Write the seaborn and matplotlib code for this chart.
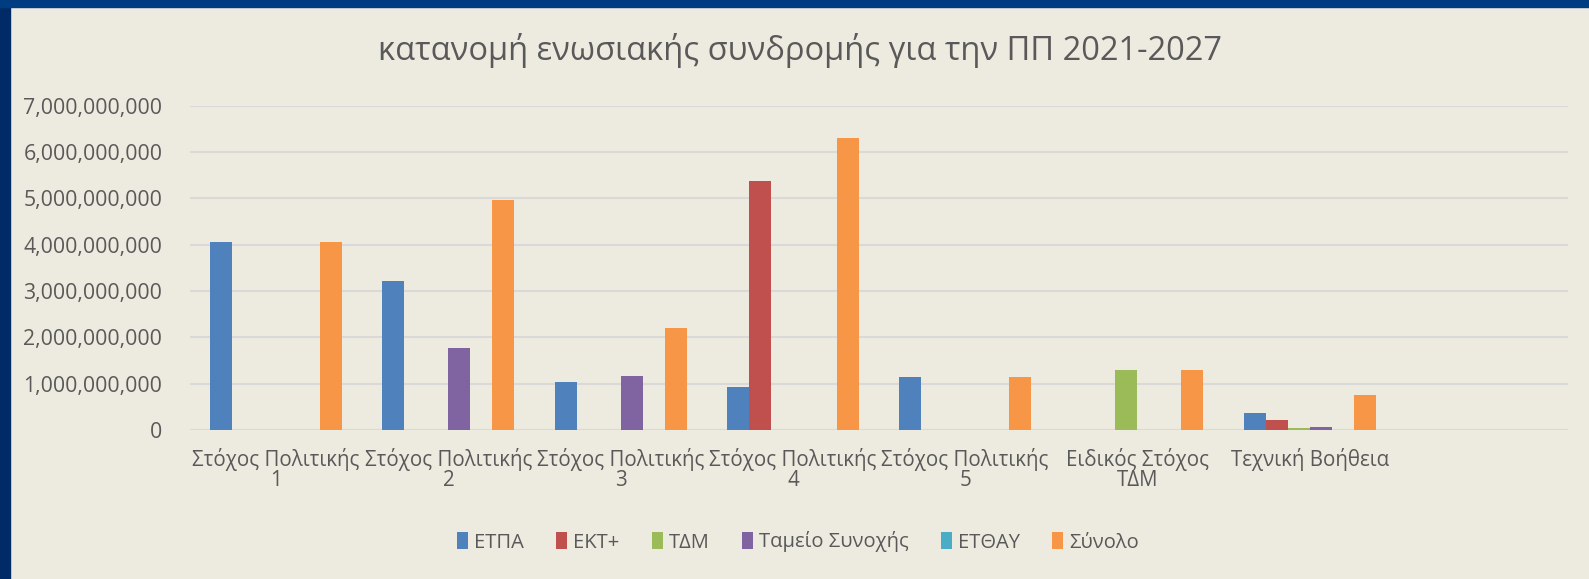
import matplotlib
matplotlib.use('Agg')
import pandas as pd
import matplotlib.pyplot as plt
import seaborn as sns
from matplotlib.patches import Rectangle
from matplotlib.ticker import FuncFormatter

# values in billions of euro
categories = ['Στόχος Πολιτικής\n1', 'Στόχος Πολιτικής\n2', 'Στόχος Πολιτικής\n3',
              'Στόχος Πολιτικής\n4', 'Στόχος Πολιτικής\n5', 'Ειδικός Στόχος\nΤΔΜ',
              'Τεχνική Βοήθεια']
series = ['ΕΤΠΑ', 'ΕΚΤ+', 'ΤΔΜ', 'Ταμείο Συνοχής', 'ΕΤΘΑΥ', 'Σύνολο']
etpa = [4.05, 3.21, 1.03, 0.93, 1.14, 0.0, 0.37]
ekt = [0.0, 0.0, 0.0, 5.38, 0.0, 0.0, 0.22]
tdm = [0.0, 0.0, 0.0, 0.0, 0.0, 1.30, 0.04]
cohesion = [0.0, 1.76, 1.17, 0.0, 0.0, 0.0, 0.06]
ethay = [0.0, 0.0, 0.0, 0.0, 0.0, 0.0, 0.0]
total = [4.05, 4.97, 2.21, 6.31, 1.14, 1.30, 0.75]
colors = ['#4F81BD', '#C0504D', '#9BBB59', '#8064A2', '#4BACC6', '#F79646']

rows = []
for name, vals in zip(series, [etpa, ekt, tdm, cohesion, ethay, total]):
    for cat, v in zip(categories, vals):
        rows.append({'cat': cat, 'fund': name, 'value': v * 1e9})
df = pd.DataFrame(rows)

bg = '#EDEBE0'
txt = '#595959'
sns.set_style('white')
plt.rcParams['font.family'] = ['Open Sans', 'DejaVu Sans']

fig = plt.figure(figsize=(15.89, 5.79), dpi=100, facecolor=bg)
ax = fig.add_axes([0.1196, 0.2573, 0.8672, 0.5601])
ax.set_facecolor(bg)

sns.barplot(data=df, x='cat', y='value', hue='fund', order=categories,
            hue_order=series, palette=colors, width=0.767, linewidth=0,
            saturation=1, ax=ax)

ax.set_xlim(-0.5, 7.5)
ax.set_ylim(0, 7e9)
ax.set_yticks([i * 1e9 for i in range(8)])
ax.yaxis.set_major_formatter(FuncFormatter(lambda v, p: f'{int(round(v)):,}'))
ax.grid(axis='y', color='#D9D9D9', linewidth=1.5)
ax.set_axisbelow(True)
for s in ax.spines.values():
    s.set_visible(False)
ax.tick_params(axis='y', length=0, pad=20, labelsize=15.3, labelcolor=txt)
ax.tick_params(axis='x', length=0, pad=13, labelsize=14.8, labelcolor=txt)
for lab in ax.get_xticklabels():
    lab.set_linespacing(0.95)
ax.set_xlabel('')
ax.set_ylabel('')

ax.legend(loc='center', bbox_to_anchor=(798 / 1589, 1 - 542 / 579),
          bbox_transform=fig.transFigure, ncol=6, frameon=False,
          fontsize=14.5, labelcolor=txt, handlelength=0.55, handleheight=0.85,
          handletextpad=0.3, columnspacing=1.6)

fig.text(800 / 1589, 1 - 51 / 579, 'κατανομή ενωσιακής συνδρομής για την ΠΠ 2021-2027',
         ha='center', va='center', fontsize=23.5, color=txt)

# slide frame
fig.patches.append(Rectangle((0, 0), 10 / 1589, 1, transform=fig.transFigure,
                             color='#002B66', zorder=10))
fig.patches.append(Rectangle((0, 1 - 7 / 579), 1, 7 / 579, transform=fig.transFigure,
                             color='#003C82', zorder=10))

fig.savefig('out.png', dpi=100, facecolor=bg)
